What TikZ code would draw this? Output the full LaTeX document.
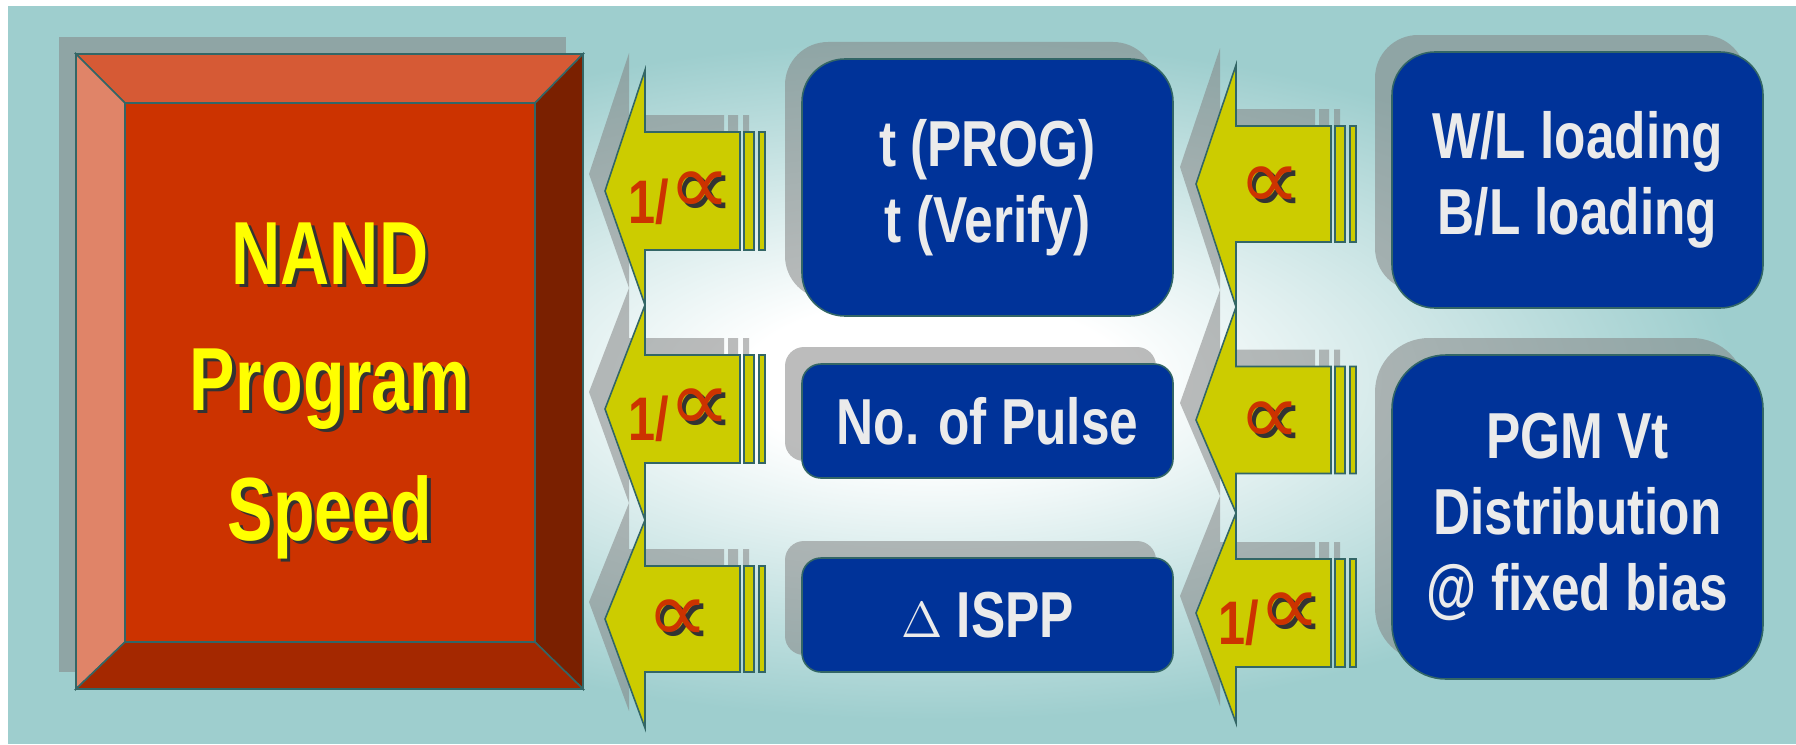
\documentclass[tikz,border=0pt]{standalone}
\usepackage{fontspec}
\usepackage{tikz}
\usetikzlibrary{shadows}
\setmainfont{Liberation Sans}
\newfontfamily\condfont[FakeStretch=0.79]{Liberation Sans}
\newfontfamily\headfont[FakeStretch=0.76]{Liberation Sans}
\newfontfamily\symfont{DejaVu Sans}

\definecolor{bgteal}{RGB}{158,206,206}
\definecolor{edgeteal}{RGB}{51,102,102}
\definecolor{shadowgrey}{RGB}{130,130,130}
\definecolor{boxblue}{RGB}{0,51,153}
\definecolor{boxtext}{RGB}{235,235,235}
\definecolor{arrowyellow}{RGB}{204,204,0}
\definecolor{labelred}{RGB}{204,51,0}
\definecolor{speedred}{RGB}{204,51,0}
\definecolor{bevtop}{RGB}{214,90,53}
\definecolor{bevleft}{RGB}{224,132,104}
\definecolor{bevright}{RGB}{122,32,0}
\definecolor{bevbottom}{RGB}{164,40,0}
\definecolor{headyellow}{RGB}{255,255,0}

\pgfdeclareradialshading{glow}{\pgfpoint{0bp}{0bp}}{color(0bp)=(white); color(6bp)=(white); color(25bp)=(bgteal); color(50bp)=(bgteal)}

% text with a dark drop shadow under it
\newcommand{\shadowed}[1]{\makebox[0pt][l]{\kern0.04em\raisebox{-0.04em}{\textcolor{black!80}{#1}}}#1}
\newcommand{\prop}{{\symfont\mdseries\fontsize{25}{25}\selectfont\shadowed{∝}}}

% block arrow pointing left: tip, head, body and two end stripes
\def\arrowshape{(\xt,\yc) -- (\xt+0.40,\yt) -- (\xt+0.40,\yc+\h) -- (\xt+1.35,\yc+\h)
  -- (\xt+1.35,\yc-\h) -- (\xt+0.40,\yc-\h) -- (\xt+0.40,\yb) -- cycle
  (\xt+1.39,\yc+\h) rectangle (\xt+1.49,\yc-\h)
  (\xt+1.54,\yc+\h) rectangle (\xt+1.60,\yc-\h)}
\def\arrowlist{6.05/5.53/6.74/4.39/0.59, 6.05/3.35/4.39/2.24/0.54, 6.05/1.25/2.24/0.16/0.53,
  11.96/5.60/6.79/4.37/0.58, 11.96/3.24/4.37/2.31/0.535, 11.96/1.31/2.31/0.21/0.54}

\begin{document}
\begin{tikzpicture}[
  shadowfill/.style={fill=shadowgrey, fill opacity=0.53},
  bevel/.style={draw=edgeteal, line width=0.45pt},
  bluebox/.style={draw=edgeteal, line width=0.45pt, fill=boxblue, text=boxtext,
    minimum width=3.71cm, inner sep=0pt, align=center,
    font=\condfont\bfseries\fontsize{18.5}{21.7}\selectfont,
    drop shadow={shadow xshift=-0.17cm, shadow yshift=0.17cm, fill=shadowgrey, opacity=0.53}},
  arrowbody/.style={draw=edgeteal, line width=0.45pt, fill=arrowyellow},
  headtxt/.style={text=headyellow, anchor=base, font=\headfont\bfseries\fontsize{25.5}{30}\selectfont},
  lbl/.style={text=labelred, font=\condfont\bfseries\fontsize{17.5}{20}\selectfont},
]
\useasboundingbox (0,0) rectangle (17.96,7.44);

% background with a soft glow in the middle
\fill[bgteal] (0.08,0) rectangle (17.96,7.38);
\shade[shading=glow] (1.35,0.24) rectangle (17.35,7.04);

% NAND program speed block (bevelled)
\fill[shadowfill] (0.59,0.72) rectangle (5.66,7.07);
\coordinate (o-nw) at (0.76,6.90); \coordinate (o-ne) at (5.83,6.90);
\coordinate (o-sw) at (0.76,0.55); \coordinate (o-se) at (5.83,0.55);
\coordinate (i-nw) at (1.25,6.41); \coordinate (i-ne) at (5.35,6.41);
\coordinate (i-sw) at (1.25,1.02); \coordinate (i-se) at (5.35,1.02);
\filldraw[bevel, fill=bevtop] (o-nw) -- (o-ne) -- (i-ne) -- (i-nw) -- cycle;
\filldraw[bevel, fill=bevleft] (o-nw) -- (i-nw) -- (i-sw) -- (o-sw) -- cycle;
\filldraw[bevel, fill=bevright] (o-ne) -- (o-se) -- (i-se) -- (i-ne) -- cycle;
\filldraw[bevel, fill=bevbottom] (o-sw) -- (i-sw) -- (i-se) -- (o-se) -- cycle;
\filldraw[bevel, fill=speedred] (i-sw) rectangle (i-ne);
\foreach \word/\y in {NAND/4.60, Program/3.34, Speed/2.04}
  \node[headtxt] (head-\word) at (3.30,\y) {\shadowed{\word}};

% block arrows: shadows first, then the arrows
\foreach \xt/\yc/\yt/\yb/\h in \arrowlist
  \fill[shadowfill, shift={(-0.16,0.17)}] \arrowshape;
\foreach \xt/\yc/\yt/\yb/\h in \arrowlist
  \filldraw[arrowbody] \arrowshape;

\node[lbl, anchor=base] (lbl-a1) at (6.80,5.21) {1/\raisebox{0.25ex}{\prop}};
\node[lbl, anchor=base] (lbl-a2) at (6.80,3.04) {1/\raisebox{0.25ex}{\prop}};
\node[lbl] (lbl-a3) at (6.78,1.21) {\prop};
\node[lbl] (lbl-b1) at (12.70,5.54) {\prop};
\node[lbl] (lbl-b2) at (12.70,3.19) {\prop};
\node[lbl, anchor=base] (lbl-b3) at (12.70,1.00) {1/\raisebox{0.25ex}{\prop}};

% middle column
\node[bluebox, minimum height=2.57cm, rounded corners=0.43cm] (prog) at (9.875,5.565) {t (PROG)\\t (Verify)};
\node[bluebox, minimum height=1.14cm, rounded corners=0.19cm] (pulse) at (9.875,3.23) {No. of Pulse};
\node[bluebox, minimum height=1.14cm, rounded corners=0.19cm] (ispp) at (9.875,1.29) {{\mdseries\fontsize{15}{15}\selectfont$\Delta$} ISPP};

% right column
\node[bluebox, minimum height=2.56cm, rounded corners=0.43cm] (loading) at (15.775,5.64) {W/L loading\\B/L loading};
\node[bluebox, minimum height=3.24cm, rounded corners=0.54cm] (pgmvt) at (15.775,2.27) {PGM Vt\\Distribution\\@ fixed bias};
\end{tikzpicture}
\end{document}
